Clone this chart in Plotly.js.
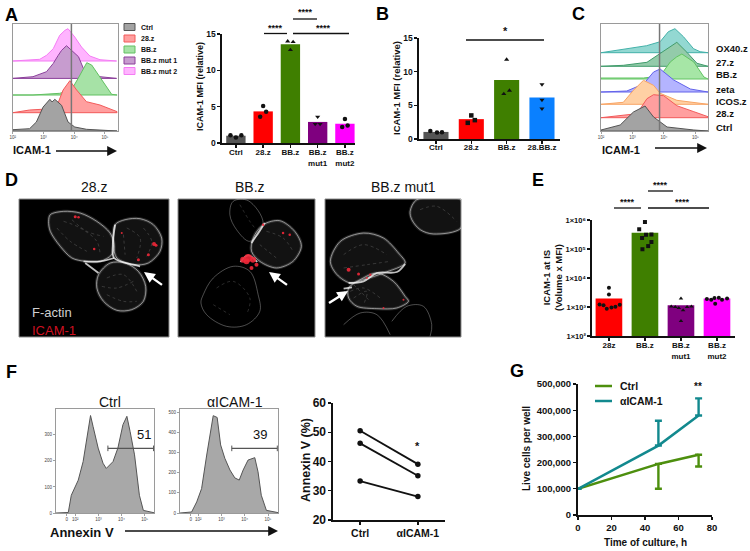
<!DOCTYPE html>
<html><head><meta charset="utf-8">
<script src="https://cdn.plot.ly/plotly-3.0.1.min.js"></script>
<style>html,body{margin:0;padding:0;background:#fff}#p{width:750px;height:551px}</style>
</head><body><div id="p"></div>
<script>
// ---- Panel A histograms: log10 intensity / height above own baseline
const aHistNames = ['BB.z mut 2','BB.z mut 1','BB.z','28.z','Ctrl'];
const aHistBase = [70,52.6,36,18.3,0];
const aHistX = [
 [2,2.88,3.1,3.32,3.53,3.7,3.8,3.9,4.02,4.24,4.51,4.84,5.38],
 [2,2.66,3.1,3.32,3.48,3.59,3.75,3.92,4.14,4.3,4.41,4.84,5.38],
 [2,2.66,3.53,3.91,4.13,4.3,4.41,4.57,4.79,5,5.22,5.4],
 [2,2.55,3.1,3.48,3.64,3.86,4.08,4.4,4.84,5.27,5.4],
 [2,2.55,2.77,2.99,3.21,3.28,3.37,3.59,3.8,4.02,4.4,5.4]];
const aHistY = [
 [0,1.7,5.7,12.3,25.7,30.7,32.3,29,24,14,5,1.3,0],
 [0,1.7,6.7,15,23,28,32.7,28,21.7,10,4,1.7,0],
 [0,0,1.7,5,16.7,26.7,32.3,30,20,10,0.7,0],
 [0,2.7,3.7,10,22.7,32,22.7,11,7.7,2.7,1],
 [1.3,2.3,9,24,31.7,29,31.7,25.7,9,4,1.7,0.3]];
const aHistFill = ['#ffb4ff','#c79ccf','#a6e2a6','#ff9f9f','#a3a3a3'];
const aHistLine = ['#f47cf4','#8b3f9b','#62c062','#f25a5a','#555555'];
const aLegendLabels = ['Ctrl','28.z','BB.z','BB.z mut 1','BB.z mut 2'];
const aLegendFill = ['#a3a3a3','#ff9f9f','#a6e2a6','#c79ccf','#ffb4ff'];
const aLegendLine = ['#555555','#f25a5a','#62c062','#8b3f9b','#f47cf4'];
// ---- Panel A bars
const aCats = ['Ctrl','28.z','BB.z','BB.z<br>mut1','BB.z<br>mut2'];
const aVals = [1.0,4.35,13.6,2.9,2.65];
const aColors = ['#555555','#ff0000','#3f7f00','#7f007f','#ff00ff'];
const aSymbols = ['circle','circle','triangle-up','triangle-down','circle'];
const aPtOff = [[-0.2,0,0.2],[0,0.11,-0.11],[-0.1,0.1,0],[0,-0.09,0.09],[0,-0.1,0.1]];
const aPtVal = [[1.06,0.75,1.06],[5.08,4.3,3.6],[14,13.9,12.8],[3.6,2.6,2.6],[3.3,2.2,2.4]];
// ---- Panel B bars
const bCats = ['Ctrl','28.z','BB.z','28.BB.z'];
const bVals = [1.05,2.95,8.75,6.15];
const bColors = ['#555555','#ff0000','#3f7f00','#0a80ff'];
const bSymbols = ['circle','square','triangle-up','triangle-down'];
const bPtOff = [[-0.16,0.03,0.17],[0,0.1,-0.1],[0,-0.08,0.08],[0,0,0]];
const bPtVal = [[1.2,0.95,1.0],[3.5,2.8,2.4],[11.8,6.7,7.2],[8.1,5.8,4.5]];
// ---- Panel C histograms
const cHistNames = ['OX40.z','27.z','BB.z','zeta','ICOS.z','28.z','Ctrl'];
const cHistBase = [78.3,64.7,52,39,26.7,13.3,0];
const cHistX = [
 [2,2.82,3.45,3.88,4.0,4.14,4.35,4.62,4.94,5.15,5.4],
 [2,2.71,3.46,3.94,4.2,4.41,4.73,5.05,5.4],
 [2,3.35,3.88,4.2,4.4,4.57,4.95,5.27,5.4],
 [2,2.82,3.35,3.67,3.88,4.31,4.84,5.4],
 [2,2.71,3.03,3.35,3.67,3.88,4.41,5.4],
 [2,3.14,3.46,3.67,3.99,4.41,4.95,5.4],
 [2,2.61,3.03,3.4,3.67,4.1,4.95,5.4]];
const cHistY = [
 [0,4,7,11,16,21,24,16,4,1,0],
 [0,1,4,14,20,24,14,3,0],
 [1,1,3,17,22,25,17,2,0],
 [0,1,8,20,23,12,3,0],
 [0,2,14,24,19,11,4,0],
 [0,4,19,23,22,12,6,1],
 [1,6,19,25,14,4,1,0]];
const cHistFill = ['#93d8d2','#93cbaa','#a6e6a6','#b4b4ff','#ffd0a4','#ff9f9f','#a3a3a3'];
const cHistLine = ['#43b1a9','#419c6c','#62c462','#6262ea','#f8a464','#f25a5a','#555555'];
const cLabels = ['OX40.z','27.z','BB.z','zeta','ICOS.z','28.z','Ctrl'];
const d1Cells = [
 {x:[150,190,240,290,330,342,335,300,255,215,180,150,145,150],y:[150,140,145,170,205,240,270,290,290,280,245,200,170,150]},
 {x:[345,375,420,460,485,480,445,400,350,340,345],y:[180,165,162,180,220,260,295,300,280,240,180]},
 {x:[295,330,375,415,437,430,395,350,310,290,295],y:[330,295,295,320,365,410,435,437,410,370,330]}];
const d2Cells = [
 {x:[760,790,840,885,905,880,830,780,755,760],y:[220,180,168,200,245,290,310,290,260,220]}];
const d2Dim = [
 {x:[700,745,790,750,710,690,700],y:[110,108,175,230,195,150,110]},
 {x:[610,640,700,750,775,780,740,680,620,603,610],y:[390,340,305,320,390,440,480,485,450,415,390]}];
const d3Cells = [
 {x:[1230,1250,1383,1383,1300,1260,1235,1230],y:[140,105,105,190,208,195,165,140]},
 {x:[990,1020,1090,1150,1195,1215,1150,1090,1050,1010,990],y:[290,230,205,220,265,295,325,345,355,330,290]},
 {x:[1045,1080,1130,1180,1215,1225,1190,1130,1070,1045,1045],y:[370,345,325,350,395,410,430,432,425,400,370]}];
const d3Dim = [
 {x:[1030,1080,1130,1170],y:[480,445,450,510]},
 {x:[1175,1220,1270,1295,1290],y:[470,425,425,480,515]}];
const d1Fibers = [
 {x:[190,240,290,300],y:[170,190,230,270]},{x:[170,210,260],y:[190,230,260]},{x:[215,260,310],y:[165,200,215]},
 {x:[380,420,410],y:[190,220,280]},{x:[370,375],y:[210,270]},{x:[430,455,440],y:[190,230,275]},
 {x:[320,370,410],y:[340,330,380]},{x:[320,370,410],y:[390,410,410]},{x:[305,350,400],y:[365,370,350]}];
const d2Fibers = [
 {x:[800,850,880],y:[200,220,260]},{x:[780,830],y:[240,280]},
 {x:[650,700,750,740],y:[370,350,400,450]},{x:[640,690],y:[420,450]},{x:[720,750,765],y:[120,170,190]}];
const d3Fibers = [
 {x:[1050,1090,1140],y:[380,370,400]},{x:[1060,1100,1090],y:[400,380,420]},{x:[1060,1110],y:[360,410]},
 {x:[1030,1090,1160],y:[270,240,270]},{x:[1030,1100,1170],y:[310,300,290]},{x:[1260,1310,1370],y:[135,125,170]}];
const d1Bright = [{x:[345,338,342,400,420],y:[180,240,280,300,305]},{x:[250,300,342],y:[290,290,280]},{x:[255,275,295],y:[295,310,325]}];
const d2Bright = [{x:[722,745,772],y:[292,272,292]},{x:[755,775,795],y:[235,205,175]}];
const d3Bright = [{x:[1045,1090,1130,1190,1215],y:[355,350,325,322,298]},{x:[1030,1055],y:[372,368]}];
const d1RedX=[225,235,282,462,468,445,415,365], d1RedY=[156,158,253,238,242,270,285,205], d1RedS=[3,2.5,2.5,4,3,3,3,2];
const d2RedX=[730,745,760,770,740,755,850,870,790], d2RedY=[285,280,285,300,290,310,205,210,180], d2RedS=[6,8,6,4,6,4,2.5,2.5,2.5];
const d3RedX=[1045,1075,1110,1100,1150,1210], d3RedY=[315,328,330,340,430,405], d3RedS=[4,3,2.5,2,2,2];
// ---- Panel E bars
const eCats = ['28z','BB.z','BB.z<br>mut1','BB.z<br>mut2'];
const eVals = [1950,360000,1150,1950];
const eColors = ['#ff0000','#3f7f00','#7f007f','#ff00ff'];
const eSymbols = ['circle','square','triangle-up','circle'];
const ePtOff = [[0,0,-0.26,-0.15,-0.06,0.07,0.18,0.3],[0,-0.16,-0.08,0.03,0.18,0.18,0.09,-0.07],[0,-0.27,-0.16,-0.06,0.06,0.17,0.29,0],[-0.28,-0.16,-0.07,-0.05,0.05,0.14,0.28]];
const ePtVal = [[4570,2690,1230,1150,870,955,1020,1200],[851000,479000,240000,309000,316000,174000,126000,98000],[1950,1050,1000,930,780,1000,1050,330],[1900,1780,2040,1290,2090,1780,1950]];
const eTickVals = [100,1000,10000,100000,1000000];
const eTickText = ['1×10²','1×10³','1×10⁴','1×10⁵','1×10⁶'];
// ---- Panel F histograms
const f1X = [1.17,1.7,1.83,2.13,2.34,2.51,2.66,2.77,2.99,3.2,3.34,3.63,3.84,4.06,4.23,4.37,4.56,4.77,4.94,5.4];
const f1Y = [0,2,68,126,197,300,374,332,249,191,171,197,249,339,371,312,223,68,10,1];
const f2X = [1.21,1.71,1.93,2.14,2.36,2.53,2.64,2.81,2.96,3.14,3.36,3.57,3.76,3.93,4.14,4.43,4.57,4.71,4.93,5.43];
const f2Y = [0,5,55,121,287,420,482,473,337,271,213,174,163,213,262,274,204,88,13,2];
const fGate1X = [3.41,5.38], fGate1Y = [248,248];
const fGate2X = [3.44,5.4], fGate2Y = [320,320];
// ---- Panel F paired lines
const fPairCats = ['Ctrl','αICAM-1'];
const fPairs = [[50.5,39.1],[46.2,35.1],[33.3,28]];
// ---- Panel G
const gX = [0,48,72];
const gCtrl = [100000,195000,230000];
const gCtrlErr = [0,95000,45000];
const gAnti = [100000,265000,380000];
const gAntiErr = [0,95000,65000];

// ---------- helpers
const W=750,H=551, FF='Liberation Sans, Arial, sans-serif';
const traces=[], shapes=[], annos=[], layout={};
let axN=0;
const px=x=>x/W, py=y=>1-y/H;
function addAxes(r,xo,yo){
  axN++; const s=axN===1?'':axN;
  const base={showgrid:false,zeroline:false,fixedrange:true,layer:'above traces'};
  layout['xaxis'+s]=Object.assign({},base,{domain:[px(r[0]),px(r[1])],anchor:'y'+s},xo);
  layout['yaxis'+s]=Object.assign({},base,{domain:[py(r[3]),py(r[2])],anchor:'x'+s},yo);
  return {x:'x'+s,y:'y'+s};
}
function T(x,y,text,size,o){
  o=o||{};
  annos.push({xref:'paper',yref:'paper',x:px(x),y:py(y),text:text,showarrow:false,
    xanchor:o.anchor||'center',yanchor:'middle',textangle:o.angle||0,
    font:{family:FF,size:size,color:o.color||'#111',weight:o.weight===undefined?700:o.weight}});
}
function L(x0,y0,x1,y1,color,w){
  shapes.push({type:'line',xref:'paper',yref:'paper',x0:px(x0),x1:px(x1),y0:py(y0),y1:py(y1),line:{color:color||'#111',width:w||1.3},layer:'above'});
}
function ARW(x0,y0,x1,y1,color,w,size){
  annos.push({xref:'paper',yref:'paper',x:px(x1),y:py(y1),ax:x0-x1,ay:y0-y1,text:' ',showarrow:true,arrowhead:2,arrowsize:size||1.4,arrowwidth:w||1.5,arrowcolor:color||'#111',standoff:0,startstandoff:0});
}
function histogram(a,xs,ys,base,fill,line){
  const X=xs.concat([xs[xs.length-1],xs[0],xs[0]]);
  const Y=ys.map(v=>v+base).concat([base,base,ys[0]+base]);
  traces.push({type:'scatter',mode:'lines',x:X,y:Y,xaxis:a.x,yaxis:a.y,fill:'toself',fillcolor:fill,line:{color:line,width:1},hoverinfo:'skip',showlegend:false});
}
const logTicks={tickmode:'array',tickvals:[2,3,4,5],ticktext:['10²','10³','10⁴','10⁵'],
  ticks:'outside',ticklen:2,tickwidth:0.7,tickcolor:'#777',tickfont:{family:FF,size:4.5,color:'#444'}};
const boxAxis={showline:true,mirror:true,linecolor:'#9a9a9a',linewidth:1};
function catAxis(range,vals,text,size,standoff){
  return {range:range,tickmode:'array',tickvals:vals,ticktext:text,showline:true,linecolor:'#111',linewidth:1.6,ticks:'outside',ticklen:3,tickwidth:1.3,tickcolor:'#111',ticklabelstandoff:standoff||0,tickfont:{family:FF,size:size||8,color:'#111',weight:700}};
}
function valAxis(o,size){
  return Object.assign({showline:true,linecolor:'#111',linewidth:1.6,ticks:'outside',ticklen:3,tickwidth:1.3,tickcolor:'#111',tickfont:{family:FF,size:size||8.5,color:'#111',weight:700}},o);
}
function barPanel(a,vals,colors,width,offs,ptVals,symbols,msize){
  traces.push({type:'bar',x:vals.map((v,i)=>i),y:vals,width:width,xaxis:a.x,yaxis:a.y,marker:{color:colors,line:{width:0}},hoverinfo:'skip',showlegend:false});
  ptVals.forEach((vs,i)=>{
    traces.push({type:'scatter',mode:'markers',x:offs[i].map(d=>i+d),y:vs,xaxis:a.x,yaxis:a.y,cliponaxis:false,marker:{color:'#111',size:msize||4.5,symbol:symbols[i]},hoverinfo:'skip',showlegend:false});
  });
}

// ---------- Panel A
const aH=addAxes([12.7,117.5,24,131],Object.assign({range:[2,5.41]},boxAxis,logTicks),Object.assign({range:[0,107],showticklabels:false,ticks:''},boxAxis));
aHistNames.forEach((n,i)=>histogram(aH,aHistX[i],aHistY[i],aHistBase[i],aHistFill[i],aHistLine[i]));
traces.push({type:'scatter',mode:'lines',x:[3.91,3.91],y:[0,107],xaxis:aH.x,yaxis:aH.y,line:{color:'#777',width:1.5},hoverinfo:'skip',showlegend:false});
aLegendLabels.forEach((t,i)=>{
  const y=[27,38.5,49.5,60.5,71][i];
  shapes.push({type:'rect',xref:'paper',yref:'paper',x0:px(124),x1:px(135),y0:py(y+3.5),y1:py(y-3.5),fillcolor:aLegendFill[i],line:{color:aLegendLine[i],width:1},layer:'above'});
  T(139,y,t,7,{anchor:'left'});
});
T(11,150,'ICAM-1',11,{anchor:'left'});
ARW(53,151,117,151,'#111',1.4,1.4);
const aB=addAxes([222,355,34,143],catAxis([-0.51,4.37],aCats.map((c,i)=>i),aCats,8,-2),valAxis({range:[0,15],tickvals:[0,5,10,15]}));
barPanel(aB,aVals,aColors,0.71,aPtOff,aPtVal,aSymbols,4.5);
T(200,87,'ICAM-1 MFI (relative)',9,{angle:-90});
L(264,33.5,287,33.5); L(293,33.5,349,33.5); L(293,19,317,19);
T(275.5,28,'****',9); T(323,28,'****',9); T(305,12.5,'****',9);

// ---------- Panel B
const bB=addAxes([419,560,38,139],catAxis([-0.48,3.51],bCats.map((c,i)=>i),bCats,8,-3),valAxis({range:[0,15],tickvals:[0,5,10,15]}));
barPanel(bB,bVals,bColors,0.71,bPtOff,bPtVal,bSymbols,4.5);
T(397,88,'ICAM-1 MFI (relative)',9.5,{angle:-90});
L(466,40,544,40); T(505,31,'*',11);

// ---------- Panel C
const cH=addAxes([601,708,24,131],Object.assign({range:[2,5.4]},boxAxis,logTicks),Object.assign({range:[0,107],showticklabels:false,ticks:''},boxAxis));
cHistNames.forEach((n,i)=>histogram(cH,cHistX[i],cHistY[i],cHistBase[i],cHistFill[i],cHistLine[i]));
traces.push({type:'scatter',mode:'lines',x:[3.86,3.86],y:[0,107],xaxis:cH.x,yaxis:cH.y,line:{color:'#777',width:1.5},hoverinfo:'skip',showlegend:false});
cLabels.forEach((t,i)=>T(714,[48,62,75,89,102,114,127.5][i],t,9.5,{anchor:'left'}));
T(600,150,'ICAM-1',11,{anchor:'left'});
ARW(652,148,707,148,'#111',1.4,1.4);

// ---------- Panel D
function micro(r,xr,cells,fibers,bright,rx,ry,rs,dim){
  const a=addAxes(r,{range:xr,visible:false},{range:[517,103],visible:false});
  shapes.push({type:'rect',xref:'paper',yref:'paper',x0:px(r[0]),x1:px(r[1]),y0:py(r[3]),y1:py(r[2]),fillcolor:'#000',line:{color:'#8c8c8c',width:1},layer:'below'});
  const skip={xaxis:a.x,yaxis:a.y,hoverinfo:'skip',showlegend:false,type:'scatter',mode:'lines'};
  cells.forEach(c=>{
    traces.push(Object.assign({x:c.x,y:c.y,fill:'toself',fillcolor:'rgba(150,150,150,0.12)',line:{color:'rgba(200,200,200,0.18)',width:3,shape:'spline',smoothing:0.9}},skip));
    traces.push(Object.assign({x:c.x,y:c.y,line:{color:'rgba(235,235,235,0.55)',width:1,shape:'spline',smoothing:0.9}},skip));
  });
  (dim||[]).forEach(c=>traces.push(Object.assign({x:c.x,y:c.y,fill:'none',line:{color:'rgba(200,200,200,0.38)',width:1,shape:'spline'}},skip)));
  fibers.forEach(c=>traces.push(Object.assign({x:c.x,y:c.y,line:{color:'rgba(210,210,210,0.2)',width:1,dash:'dot',shape:'spline'}},skip)));
  bright.forEach(c=>traces.push(Object.assign({x:c.x,y:c.y,line:{color:'rgba(255,255,255,0.75)',width:1.8,shape:'spline'}},skip)));
  traces.push({type:'scatter',mode:'markers',x:rx,y:ry,xaxis:a.x,yaxis:a.y,marker:{color:'#f02838',size:rs,line:{width:0},opacity:0.9},hoverinfo:'skip',showlegend:false});
}
micro([19,169,199,337],[56,507],d1Cells,d1Fibers,d1Bright,d1RedX,d1RedY,d1RedS);
micro([178,315,199,337],[534,946],d2Cells,d2Fibers,d2Bright,d2RedX,d2RedY,d2RedS,d2Dim);
micro([325,461,199,337],[974,1383],d3Cells,d3Fibers,d3Bright,d3RedX,d3RedY,d3RedS,d3Dim);
T(94,187,'28.z',14,{weight:400}); T(250,187,'BB.z',14,{weight:400}); T(403,187,'BB.z mut1',14,{weight:400});
T(30,312,'F-actin',13,{anchor:'left',color:'#d0d0d0',weight:400});
T(30,330,'ICAM-1',13,{anchor:'left',color:'#d01020',weight:400});
ARW(165,287,144,272,'#fff',2.4,0.9);
ARW(290,287,269,272,'#fff',2.4,0.9);
ARW(326,305,348,291,'#fff',2.4,0.9);

// ---------- Panel E
const eB=addAxes([592,735,220,336],catAxis([-0.47,3.5],eCats.map((c,i)=>i),eCats,8,-2),valAxis({type:'log',range:[2,6],tickmode:'array',tickvals:eTickVals,ticktext:eTickText},7.5));
barPanel(eB,eVals,eColors,0.74,ePtOff,ePtVal,eSymbols,4);
T(552,278,'ICAM-1 at IS<br>(Volume x MFI)',9.5,{angle:-90});
L(614,208,641,208); L(648,208,709,208); L(648,191,673,191);
T(627,202,'****',9); T(682,202,'****',9); T(660,185,'****',9);

// ---------- Panel F histograms
const f1=addAxes([56,154,409,513],Object.assign({range:[1.17,5.4]},boxAxis,logTicks,{tickvals:[1.63,2,3,4,5],ticktext:['0','10²','10³','10⁴','10⁵']}),
  Object.assign({range:[0,399]},boxAxis,{tickvals:[0,100,200,300],ticks:'outside',ticklen:2,tickwidth:0.7,tickcolor:'#777',tickfont:{family:FF,size:4.5,color:'#444'}}));
traces.push({type:'scatter',mode:'lines',x:f1X,y:f1Y,xaxis:f1.x,yaxis:f1.y,fill:'tozeroy',fillcolor:'#a8a8a8',line:{color:'#555',width:1},hoverinfo:'skip',showlegend:false});
traces.push({type:'scatter',mode:'lines+markers',x:fGate1X,y:fGate1Y,xaxis:f1.x,yaxis:f1.y,cliponaxis:false,line:{color:'#555',width:1.1},marker:{symbol:'line-ns',size:4,line:{color:'#555',width:1}},hoverinfo:'skip',showlegend:false});
const f2=addAxes([180,278,409,513],Object.assign({range:[1.21,5.43]},boxAxis,logTicks,{tickvals:[1.67,2,3,4,5],ticktext:['0','10²','10³','10⁴','10⁵']}),
  Object.assign({range:[0,515]},boxAxis,{tickvals:[0,100,200,300,400,500],ticks:'outside',ticklen:2,tickwidth:0.7,tickcolor:'#777',tickfont:{family:FF,size:4.5,color:'#444'}}));
traces.push({type:'scatter',mode:'lines',x:f2X,y:f2Y,xaxis:f2.x,yaxis:f2.y,fill:'tozeroy',fillcolor:'#a8a8a8',line:{color:'#555',width:1},hoverinfo:'skip',showlegend:false});
traces.push({type:'scatter',mode:'lines+markers',x:fGate2X,y:fGate2Y,xaxis:f2.x,yaxis:f2.y,cliponaxis:false,line:{color:'#555',width:1.1},marker:{symbol:'line-ns',size:4,line:{color:'#555',width:1}},hoverinfo:'skip',showlegend:false});
T(110,402,'Ctrl',14,{weight:400}); T(235,402,'αICAM-1',14,{weight:400});
T(144,434,'51',13,{weight:400}); T(260,434,'39',13,{weight:400});
T(82,532,'Annexin V',13);
ARW(122,531,278,531,'#111',1.4,1.4);

// ---------- Panel F paired
const fP=addAxes([333,445,403,520],catAxis([-0.47,1.47],[0,1],fPairCats,10.5),valAxis({range:[20,60],tickvals:[20,30,40,50,60]},12));
fPairs.forEach(v=>{
  traces.push({type:'scatter',mode:'lines+markers',x:[0,1],y:v,xaxis:fP.x,yaxis:fP.y,line:{color:'#111',width:1.8},marker:{color:'#111',size:5.5},hoverinfo:'skip',showlegend:false});
});
T(306,460,'Annexin V (%)',12.5,{angle:-90});
T(417,446,'*',11);

// ---------- Panel G
const gA=addAxes([578,712,384,515],
  {range:[0,80],tickvals:[0,20,40,60,80],showline:true,linecolor:'#111',linewidth:2,ticks:'outside',ticklen:3,tickwidth:1.6,tickcolor:'#111',tickfont:{family:FF,size:9.5,color:'#111',weight:700}},
  valAxis({range:[0,500000],tickvals:[0,100000,200000,300000,400000,500000],ticktext:['0','100,000','200,000','300,000','400,000','500,000'],linewidth:2},9.5));
traces.push({type:'scatter',mode:'lines',x:gX,y:gCtrl,xaxis:gA.x,yaxis:gA.y,cliponaxis:false,line:{color:'#4d8f0e',width:2.5},
  error_y:{type:'data',symmetric:false,array:gCtrlErr.map(()=>0),arrayminus:gCtrlErr,color:'#4d8f0e',thickness:2.4,width:3.5},hoverinfo:'skip',showlegend:false});
traces.push({type:'scatter',mode:'lines',x:gX,y:gAnti,xaxis:gA.x,yaxis:gA.y,cliponaxis:false,line:{color:'#12898e',width:2.5},
  error_y:{type:'data',symmetric:false,array:gAntiErr,arrayminus:gAntiErr.map(()=>0),color:'#12898e',thickness:2.4,width:3.5},hoverinfo:'skip',showlegend:false});
L(595,386,612,386,'#4d8f0e',2.5); L(595,401,612,401,'#12898e',2.5);
T(618,386,'Ctrl',10.5,{anchor:'left'}); T(618,401,'αICAM-1',10.5,{anchor:'left'});
T(698,386,'**',10);
T(526,449,'Live cells per well',10,{angle:-90});
T(645,542,'Time of culture, h',10);

// ---------- Panel letters
[['A',11,15],['B',382,14],['C',578,14],['D',11,180],['E',538,180],['F',11,372],['G',517,371]].forEach(l=>T(l[1],l[2],l[0],18,{color:'#000'}));

Object.assign(layout,{width:W,height:H,margin:{l:0,r:0,t:0,b:0},paper_bgcolor:'#fff',plot_bgcolor:'rgba(0,0,0,0)',showlegend:false,barmode:'overlay',shapes:shapes,annotations:annos,font:{family:FF}});
Plotly.newPlot('p',traces,layout,{displayModeBar:false,staticPlot:true});
</script></body></html>
